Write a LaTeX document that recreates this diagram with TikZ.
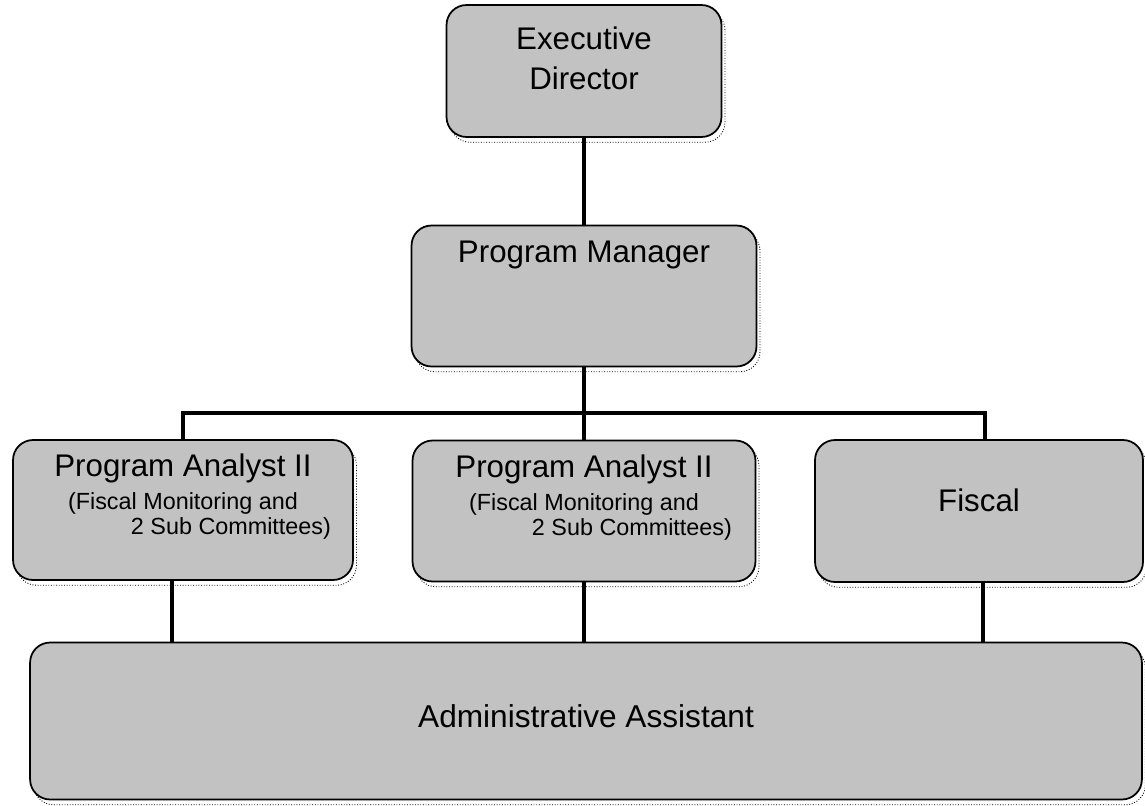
\documentclass[tikz,border=0pt]{standalone}
\usepackage{fontspec}
\setmainfont{Liberation Sans}
\usetikzlibrary{shadows}

\begin{document}
\begin{tikzpicture}[x=0.02cm, y=-0.02cm, align=center,
  post/.style={draw, line width=1pt, rounded corners=0.4cm, fill=black!24,
    font=\fontsize{17.8}{21}\selectfont,
    drop shadow={shadow xshift=2pt, shadow yshift=-3pt, opacity=1,
      fill=none, draw=black, densely dotted, line width=0.5pt}},
  link/.style={line width=2.2pt}]
\useasboundingbox (0,0) rectangle (1145,805);

\path (584,71) node[post, minimum width=5.5cm, minimum height=2.64cm] (ed)
        {Executive\\[1.8pt]Director\rule[-0.52cm]{0pt}{0pt}}
      (584,296) node[post, minimum width=6.9cm, minimum height=2.82cm] (pm)
        {Program Manager\rule[-1.76cm]{0pt}{0pt}}

      (183,510) node[post, minimum width=6.8cm, minimum height=2.8cm] (pa1)
        {Program Analyst II\\[-2.2pt]
         {\fontsize{13.3}{21}\selectfont (Fiscal Monitoring and}\\[-6.8pt]
         {\fontsize{13.3}{21}\selectfont\hspace*{54.6pt}2 Sub Committees)\rule[-0.635cm]{0pt}{0pt}}}
      (584,511) node[post, minimum width=6.86cm, minimum height=2.82cm] (pa2)
        {Program Analyst II\\[-2.2pt]
         {\fontsize{13.3}{21}\selectfont (Fiscal Monitoring and}\\[-6.8pt]
         {\fontsize{13.3}{21}\selectfont\hspace*{54.6pt}2 Sub Committees)\rule[-0.635cm]{0pt}{0pt}}}
      (979,511) node[post, minimum width=6.56cm, minimum height=2.84cm] (fis)
        {Fiscal\rule[-0.44cm]{0pt}{0pt}}

      (586,721) node[post, minimum width=22.24cm, minimum height=3.14cm,
        font=\fontsize{18}{21}\selectfont] (adm)
        {Administrative Assistant\rule[-0.2cm]{0pt}{0pt}};

\coordinate (bus) at (584,413);

\draw[link] (ed) -- (pm);
\draw[link] (pm) -- (bus);
\draw[link] (pa1.north) |- (bus) -| ([xshift=1.2mm]fis.north);
\draw[link] (bus) -- (pa2.north);

\draw[link] ([xshift=-2.2mm]pa1.south) -- ([xshift=-2.2mm]pa1.south |- adm.north);
\draw[link] (pa2.south) -- (pa2.south |- adm.north);
\draw[link] ([xshift=0.8mm]fis.south) -- ([xshift=0.8mm]fis.south |- adm.north);

\end{tikzpicture}
\end{document}
